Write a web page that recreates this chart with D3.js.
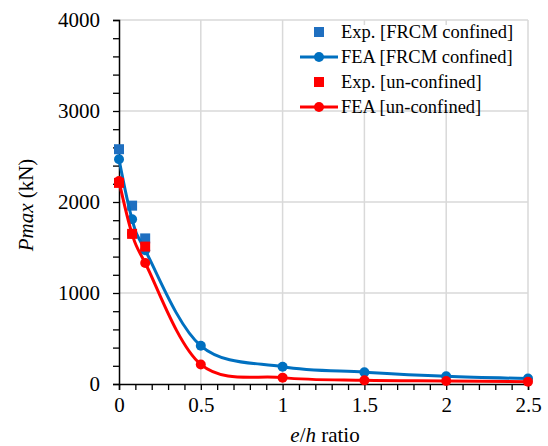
<!DOCTYPE html>
<html>
<head>
<meta charset="utf-8">
<script src="https://cdn.jsdelivr.net/npm/d3@7"></script>
<style>
  body { margin: 0; background: #fff; }
  svg text { font-family: "Liberation Serif", "Times New Roman", Times, "DejaVu Serif", serif; }
</style>
</head>
<body>
<div id="app"></div>
<script>
// data
const expX = [0, 0.08, 0.16]
const expFrcm = [2580, 1960, 1600]
const expUnconf = [2210, 1650, 1510]
const feaX = [0, 0.08, 0.16, 0.5, 1, 1.5, 2, 2.5]
const feaFrcm = [2470, 1810, 1470, 420, 190, 130, 85, 60]
const feaUnconf = [2230, 1650, 1330, 215, 70, 40, 33, 25]
const xTicks = [0, 0.5, 1, 1.5, 2, 2.5]
const yTicks = [0, 1000, 2000, 3000, 4000]
const legendNames = ['Exp. [FRCM confined]', 'FEA [FRCM confined]', 'Exp. [un-confined]', 'FEA [un-confined]']

const blue = '#0070c0', red = '#ff0000'

const svg = d3.select('#app').append('svg').attr('width', 548).attr('height', 446)

const x = d3.scaleLinear().domain([0, 2.5]).range([119, 528])
const y = d3.scaleLinear().domain([0, 4000]).range([384, 20])

// grid
svg.append('g').selectAll('line.vg').data(xTicks.slice(1)).enter().append('line')
  .attr('x1', d => x(d)).attr('x2', d => x(d)).attr('y1', y(4000)).attr('y2', y(0))
  .attr('stroke', '#d9d9d9').attr('stroke-width', 1.5)
svg.append('g').selectAll('line.hg').data(yTicks.slice(1)).enter().append('line')
  .attr('x1', x(0)).attr('x2', x(2.5)).attr('y1', d => y(d)).attr('y2', d => y(d))
  .attr('stroke', '#d9d9d9').attr('stroke-width', 1.5)

// axes
const xAxis = d3.axisBottom(x).tickValues(d3.range(0, 2.51, 0.1)).tickSize(6)
  .tickFormat(d => xTicks.some(t => Math.abs(t - d) < 1e-6) ? d3.format('~g')(+d.toFixed(1)) : '')
const yAxis = d3.axisLeft(y).tickValues(d3.range(0, 4001, 200)).tickSize(6)
  .tickFormat(d => d % 1000 === 0 ? d : '')

const gx = svg.append('g').attr('transform', `translate(0,${y(0)})`).call(xAxis)
const gy = svg.append('g').attr('transform', `translate(${x(0)},0)`).call(yAxis)
;[gx, gy].forEach(g => {
  g.attr('font-family', null)
  g.select('.domain').attr('stroke', '#000').attr('stroke-width', 1.5)
  g.selectAll('.tick line').attr('stroke', '#000').attr('stroke-width', 1.3)
  g.selectAll('.tick text').attr('fill', '#000').attr('font-size', 21)
})
gx.selectAll('.tick text').attr('dy', '0.71em').attr('y', 13)
gy.selectAll('.tick text').attr('x', -19)

// axis titles
const xt = svg.append('text').attr('x', 325).attr('y', 442).attr('text-anchor', 'middle')
  .attr('font-size', 21)
xt.append('tspan').attr('font-style', 'italic').text('e')
xt.append('tspan').text('/')
xt.append('tspan').attr('font-style', 'italic').text('h')
xt.append('tspan').text(' ratio')

const yt = svg.append('text').attr('transform', 'translate(33,205) rotate(-90)')
  .attr('text-anchor', 'middle').attr('font-size', 21)
yt.append('tspan').attr('font-style', 'italic').text('Pmax')
yt.append('tspan').text(' (kN)')

// curves
const smooth = d3.line().x(d => x(d[0])).y(d => y(d[1])).curve(d3.curveCardinal.tension(0))

function drawExp(vals, color) {
  svg.append('g').selectAll('rect').data(expX.map((v, i) => [v, vals[i]])).enter().append('rect')
    .attr('x', d => x(d[0]) - 5).attr('y', d => y(d[1]) - 5)
    .attr('width', 10).attr('height', 10).attr('fill', color)
}
function drawFea(vals, color) {
  const pts = feaX.map((v, i) => [v, vals[i]])
  svg.append('path').datum(pts).attr('d', smooth).attr('fill', 'none')
    .attr('stroke', color).attr('stroke-width', 3)
  svg.append('g').selectAll('circle').data(pts).enter().append('circle')
    .attr('cx', d => x(d[0])).attr('cy', d => y(d[1])).attr('r', 5).attr('fill', color)
}
drawExp(expFrcm, '#1f6fc0')
drawFea(feaFrcm, blue)
drawExp(expUnconf, red)
drawFea(feaUnconf, red)

// legend
const lg = svg.append('g')
lg.append('rect').attr('x', 292).attr('y', 25).attr('width', 232).attr('height', 85).attr('fill', '#fff')
const colors = ['#1f6fc0', blue, red, red]
legendNames.forEach((name, i) => {
  const ly = 32 + i * 25
  if (i % 2 === 0) {
    lg.append('rect').attr('x', 314).attr('y', ly - 5).attr('width', 10).attr('height', 10).attr('fill', colors[i])
  } else {
    lg.append('line').attr('x1', 300).attr('x2', 338).attr('y1', ly).attr('y2', ly)
      .attr('stroke', colors[i]).attr('stroke-width', 3)
    lg.append('circle').attr('cx', 319).attr('cy', ly).attr('r', 5).attr('fill', colors[i])
  }
  lg.append('text').attr('x', 341).attr('y', ly).attr('dy', '0.35em')
    .attr('font-size', 18.5).attr('fill', '#000').text(name)
})
</script>
</body>
</html>
